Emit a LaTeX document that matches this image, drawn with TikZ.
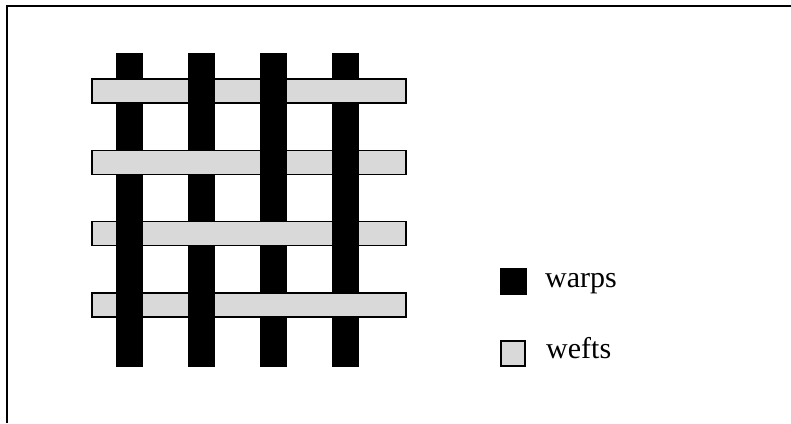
\documentclass[tikz,border=0pt]{standalone}
\usepackage{fontspec}
\setmainfont{Liberation Serif}
\begin{document}
\begin{tikzpicture}[x=1pt,y=-1pt,
  warp/.style={fill=black,draw=none},
  weft/.style={fill=black!15,draw=black,line width=1.4pt},
  frameline/.style={line width=1.4pt},
  legendtext/.style={anchor=base west,inner sep=0pt,font=\fontsize{30}{34}\selectfont}]
\useasboundingbox (0,0) rectangle (791,423);
% frame edges
\draw[frameline] (7,423) -- (7,6) -- (791,6);
% warps (vertical threads)
\foreach \i in {0,...,3}
  \fill[warp] ({116+72*\i},53) rectangle ({143+72*\i},367);
% wefts (horizontal threads)
\foreach \j in {0,...,3}
  \filldraw[weft] (92,{79+71.3*\j}) rectangle (406,{103+71.3*\j});
% crossings where the warp passes over the weft (2/2 twill)
\foreach \i/\j in {1/0,2/0,2/1,3/1,0/2,3/2,0/3,1/3}
  \fill[warp] ({116+72*\i},{79+71.3*\j-1}) rectangle ({143+72*\i},{103+71.3*\j+1});
% legend
\fill[warp] (500,268) rectangle (527,295);
\node[legendtext] (warps) at (545,287) {warps};
\filldraw[weft,line width=1.2pt] (501,341) rectangle (525,366);
\node[legendtext] (wefts) at (546,358) {wefts};
\end{tikzpicture}
\end{document}
